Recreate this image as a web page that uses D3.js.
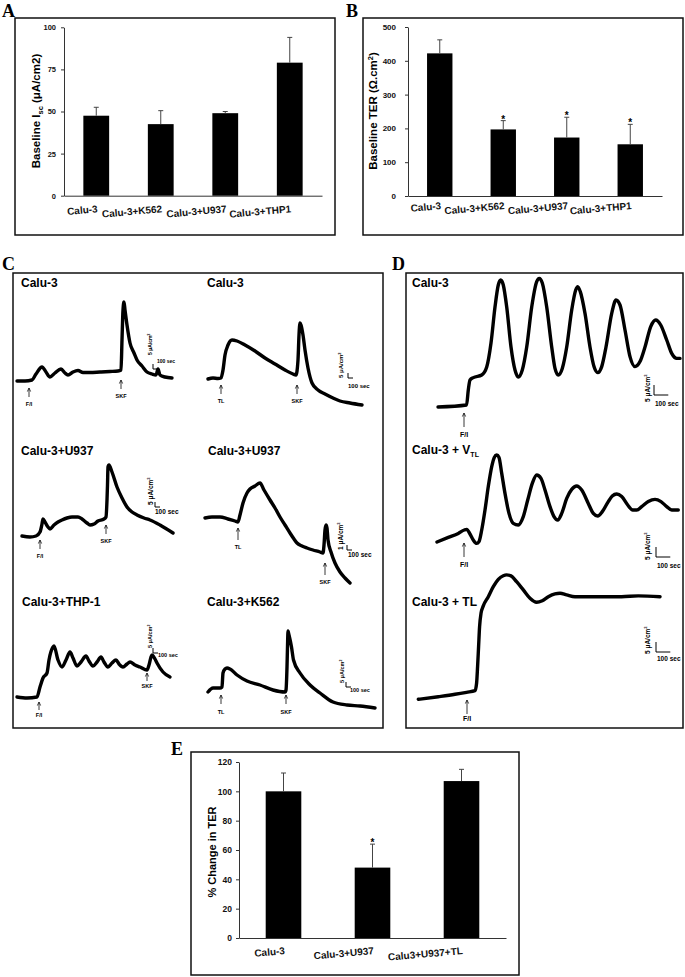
<!DOCTYPE html>
<html lang="en">
<head>
<meta charset="UTF-8">
<title>Calu-3 co-cultures: baseline Isc, TER and current traces</title>
<script src="https://d3js.org/d3.v7.min.js"></script>
<style>
  body { margin: 0; background: #fff; }
  svg { display: block; font-family: "Liberation Sans", Arial, sans-serif; font-weight: bold; }
  .letter { font-family: "Liberation Serif", "Times New Roman", serif; font-size: 18px; font-weight: bold; }
  .box { fill: none; stroke: #111; stroke-width: 1.5; }
  .trace { fill: none; stroke: #000; stroke-width: 3.4; stroke-linejoin: round; stroke-linecap: round; }
</style>
</head>
<body>
<svg id="fig" width="685" height="977"></svg>
<script>
const FONT = "Liberation Sans, Arial, sans-serif";

// ---- panel A: baseline Isc ----
const groupsAB = ["Calu-3", "Calu-3+K562", "Calu-3+U937", "Calu-3+THP1"];
const iscMean = [47.5, 42.5, 49, 79];
const iscErr = [5, 8, 1, 15];
const iscTicks = [0, 25, 50, 75, 100];

// ---- panel B: baseline TER ----
const terMean = [422, 197, 173, 153];
const terErr = [40, 26, 60, 59];
const terStar = [false, true, true, true];
const terTicks = [0, 100, 200, 300, 400, 500];

// ---- panel E: % change in TER ----
const groupsE = ["Calu-3", "Calu-3+U937", "Calu3+U937+TL"];
const terChange = [100, 48, 107];
const terChangeErr = [12.5, 16, 8];
const terChangeStar = [false, true, false];
const terChangeTicks = [0, 20, 40, 60, 80, 100, 120];

// ---- traces: [time (sec), Isc change (uA/cm2)] ----
const traceC1 = [[0,0],[160,0],[300,1],[380,7],[500,14],[580,9],[660,4],[760,8],[880,12],[960,8],[1020,6],[1120,9],[1220,10.5],[1320,8.5],[1460,8.5],[1660,9],[1860,9.5],[2020,10],[2080,11],[2100,41],[2120,71],[2140,79],[2160,71],[2200,56],[2260,38],[2340,28],[2400,21],[2500,15],[2600,9],[2700,7],[2780,6],[2820,12],[2860,6],[2960,4],[3100,3]];
const traceC2 = [[0,0],[100,1],[200,0.5],[260,1],[300,9],[340,24],[400,34],[480,39],[580,38],[740,34],[940,28],[1140,21],[1340,15],[1540,9],[1700,5],[1760,4],[1800,19],[1820,44],[1840,56],[1860,54],[1900,44],[1940,29],[2000,11],[2080,-4],[2200,-11],[2340,-15],[2500,-19],[2640,-22],[2840,-24],[3080,-26]];
const traceC3 = [[0,0],[160,-1],[280,0],[360,4],[400,12],[420,17],[460,14],[520,9],[560,7],[640,11],[720,14],[800,16],[900,18],[1000,19],[1120,19],[1200,17],[1300,13],[1360,11],[1440,12],[1520,15],[1640,17],[1680,19],[1700,36],[1710,51],[1720,69],[1740,71],[1800,64],[1900,49],[2000,38],[2100,29],[2200,24],[2300,21],[2440,18],[2560,16],[2760,11],[3020,3]];
const traceC4 = [[0,0],[140,0.2],[300,0.2],[460,-0.2],[600,-0.6],[660,-0.8],[700,0.6],[760,3],[840,5],[900,5.8],[1000,6.4],[1100,7],[1180,5.6],[1300,3.6],[1400,2],[1500,0.2],[1600,-1.4],[1700,-3],[1780,-4.2],[1840,-5],[1940,-5.6],[2040,-6],[2160,-6.4],[2300,-6.8],[2360,-7],[2380,-5.4],[2400,-2.4],[2420,-1.4],[2440,-2],[2460,-4.4],[2520,-6.8],[2600,-9],[2700,-10.8],[2800,-12],[2900,-13]];
const traceC5 = [[0,0],[200,-1],[400,0],[460,10],[520,19],[600,24],[640,37],[720,50],[740,51],[820,37],[900,30],[980,37],[1060,45],[1120,39],[1200,31],[1280,35],[1380,41],[1440,36],[1520,31],[1600,35],[1680,40],[1740,35],[1820,30],[1900,34],[1980,37],[2040,33],[2120,30],[2200,33],[2260,35],[2360,32],[2460,30],[2600,27],[2640,32],[2680,40],[2700,42],[2760,38],[2800,34],[2920,25],[3060,20]];
const traceC6 = [[0,0],[100,4],[240,4],[280,5],[300,19],[340,23],[380,24],[440,23],[580,17],[780,11],[1040,7],[1300,2],[1540,0],[1560,2],[1580,25],[1590,45],[1600,61],[1620,57],[1670,45],[1710,32],[1840,19],[2040,7],[2240,-1],[2500,-10],[2780,-13],[3040,-14],[3340,-16]];
const traceD1 = [[0,0],[200,1],[212,8.5],[224,13.5],[247,14.7],[306,16],[341,20],[371,32],[399,50],[422,61],[439,63.5],[457,61],[481,50],[511,30],[539,18.5],[562,15],[590,18.5],[621,30],[656,50],[691,62.7],[709,64.3],[730,62],[761,50],[796,30],[819,19.3],[842,16],[870,19.3],[901,30],[936,48.5],[964,58.5],[978,60.2],[996,57.7],[1029,46.8],[1064,30],[1092,20.2],[1118,17.2],[1146,20.2],[1176,30],[1216,46.8],[1246,53.5],[1274,51],[1309,38.5],[1344,25.2],[1379,20.2],[1414,22.7],[1449,30],[1489,40.2],[1524,43.5],[1559,41],[1601,33.5],[1636,26.8],[1671,24.3],[1694,24.3]];
const traceD2 = [[0,0],[79,2.3],[149,4.3],[191,6],[208,6.3],[231,4],[254,1],[278,-0.7],[294,0.2],[313,6],[336,16],[359,27.7],[383,37.7],[401,42.3],[418,43.5],[434,42.3],[453,34.3],[476,24.3],[504,14.3],[534,9.3],[569,8.5],[604,12.7],[635,21],[667,29.3],[698,33.5],[728,31.8],[756,26],[791,17.7],[819,12.7],[845,11],[873,14.3],[908,21.8],[943,26.3],[978,28],[1013,26],[1059,19.3],[1094,14.3],[1125,13],[1157,15.2],[1199,20.2],[1227,23],[1258,24],[1293,22.7],[1335,18.5],[1370,16],[1398,16],[1433,17.7],[1479,20.2],[1526,21.3],[1568,20.2],[1608,17.7],[1643,16],[1689,16]];
const traceD3 = [[0,0],[140,1.3],[257,2.5],[338,3.5],[397,4.3],[408,8],[415,16.3],[422,26.3],[429,36.3],[439,43],[455,46.7],[490,51.3],[525,56.3],[560,60],[595,61.8],[618,62.2],[649,61.7],[688,58.8],[735,54.7],[782,50.5],[828,48.5],[868,49.3],[910,51.3],[957,52.7],[992,53],[1038,52.2],[1097,51.3],[1190,51.3],[1307,51.3],[1423,51.3],[1540,51.7],[1692,51.3]];

// drug additions: label and time (sec)
const eventsC1 = [{ label: "F/I", t: 240 }, { label: "SKF", t: 2080 }];
const eventsC2 = [{ label: "TL", t: 260 }, { label: "SKF", t: 1780 }];
const eventsC3 = [{ label: "F/I", t: 360 }, { label: "SKF", t: 1680 }];
const eventsC4 = [{ label: "TL", t: 660 }, { label: "SKF", t: 2400 }];
const eventsC5 = [{ label: "F/I", t: 440 }, { label: "SKF", t: 2600 }];
const eventsC6 = [{ label: "TL", t: 260 }, { label: "SKF", t: 1560 }];
const eventsD1 = [{ label: "F/I", t: 182 }];
const eventsD2 = [{ label: "F/I", t: 189 }];
const eventsD3 = [{ label: "F/I", t: 341 }];

const svg = d3.select("#fig");

// panel frames + letters
[[15, 18, 335, 235], [363, 18, 683, 235], [13, 273, 383, 728], [406, 273, 683, 728], [191, 752, 519, 975]]
  .forEach(b => svg.append("rect").attr("class", "box")
    .attr("x", b[0]).attr("y", b[1]).attr("width", b[2] - b[0]).attr("height", b[3] - b[1]));
[["A", 2, 17], ["B", 346, 17], ["C", 2, 270], ["D", 392, 270], ["E", 171, 755]]
  .forEach(l => svg.append("text").attr("class", "letter").attr("x", l[1]).attr("y", l[2]).text(l[0]));

function barPanel(o) {
  const x = d3.scaleBand().domain(o.groups).range([o.x0, o.x1]).paddingInner(0.6).paddingOuter(0.3);
  const y = d3.scaleLinear().domain([0, o.ymax]).range([o.yBase, o.yTop]);
  const g = svg.append("g");

  const ya = g.append("g").attr("transform", `translate(${o.x0},0)`)
    .call(d3.axisLeft(y).tickValues(o.ticks).tickSize(3).tickSizeOuter(0).tickPadding(o.tickPad));
  ya.attr("font-family", FONT).attr("font-size", o.tickFont).attr("font-weight", "bold");
  ya.selectAll("path, line").attr("stroke", "#333");
  ya.selectAll("text").attr("fill", "#111");

  const xa = g.append("g").attr("transform", `translate(0,${o.yBase})`)
    .call(d3.axisBottom(x).tickSize(0).tickSizeOuter(0).tickPadding(0));
  xa.attr("font-family", FONT).attr("font-size", 10).attr("font-weight", "bold");
  xa.select(".domain").attr("stroke", "#333");
  xa.selectAll("text").attr("fill", "#111").attr("y", 0).attr("dy", "0.71em")
    .attr("text-anchor", "end").attr("transform", `translate(1,${o.labelDy}) rotate(-5)`);

  const rows = o.groups.map((k, i) => ({ k, m: o.mean[i], e: o.err[i], s: o.star ? o.star[i] : false }));
  g.selectAll(".bar").data(rows).join("rect")
    .attr("x", d => x(d.k)).attr("width", x.bandwidth())
    .attr("y", d => y(d.m)).attr("height", d => y(0) - y(d.m)).attr("fill", "#000");
  const cx = d => x(d.k) + x.bandwidth() / 2;
  g.selectAll(".eb").data(rows).join("path")
    .attr("d", d => `M${cx(d)},${y(d.m)}V${y(d.m + d.e)}M${cx(d) - 2.5},${y(d.m + d.e)}H${cx(d) + 2.5}`)
    .attr("stroke", "#444").attr("stroke-width", 1).attr("fill", "none");
  g.selectAll(".star").data(rows.filter(d => d.s)).join("text")
    .attr("x", cx).attr("y", d => y(d.m + d.e) + 2).attr("text-anchor", "middle")
    .attr("font-size", 10).text("*");

  const t = g.append("text").attr("transform", `translate(${o.titleX},${o.titleY}) rotate(-90)`)
    .attr("text-anchor", "middle").attr("font-size", o.titleFont);
  o.title(t);
}

barPanel({
  groups: groupsAB, mean: iscMean, err: iscErr, ticks: iscTicks, ymax: 100,
  x0: 64, x1: 322, yBase: 195.7, yTop: 27.3, tickPad: 5, tickFont: 7.5, labelDy: 9.5,
  titleX: 40, titleY: 111, titleFont: 11.5,
  title: t => {
    t.append("tspan").text("Baseline I");
    t.append("tspan").attr("font-size", 7.5).attr("dy", 2.5).text("sc");
    t.append("tspan").attr("dy", -2.5).text(" (\u03bcA/cm2)");
  }
});

barPanel({
  groups: groupsAB, mean: terMean, err: terErr, star: terStar, ticks: terTicks, ymax: 500,
  x0: 408, x1: 662, yBase: 196, yTop: 27, tickPad: 9, tickFont: 8, labelDy: 6,
  titleX: 377, titleY: 111, titleFont: 11.5,
  title: t => {
    t.append("tspan").text("Baseline TER (\u03a9.cm");
    t.append("tspan").attr("font-size", 7.5).attr("dy", -4).text("2");
    t.append("tspan").attr("dy", 4).text(")");
  }
});

barPanel({
  groups: groupsE, mean: terChange, err: terChangeErr, star: terChangeStar, ticks: terChangeTicks, ymax: 120,
  x0: 239, x1: 506, yBase: 938, yTop: 762, tickPad: 4, tickFont: 8.5, labelDy: 9,
  titleX: 216, titleY: 852, titleFont: 11,
  title: t => t.text("% Change in TER")
});

function tracePanel(o) {
  const x = d3.scaleLinear().domain([0, 100]).range([o.x0, o.x0 + 100 * o.pxPerSec]);
  const y = d3.scaleLinear().domain([0, 1]).range([o.y0, o.y0 - o.pxPerUA]);
  const line = d3.line().x(d => x(d[0])).y(d => y(d[1])).curve(d3.curveMonotoneX);
  const g = svg.append("g");
  g.append("path").datum(o.data).attr("class", "trace").attr("d", line);

  const tt = g.append("text").attr("x", o.tx).attr("y", o.ty).attr("font-size", 12);
  tt.append("tspan").text(o.name);
  if (o.sub) tt.append("tspan").attr("font-size", 7).attr("dy", 3).text(o.sub);

  o.events.forEach((e, i) => {
    const ex = x(e.t), tip = o.tips[i];
    g.append("path")
      .attr("d", `M${ex},${tip}V${tip + o.arrowLen}M${ex - 1.6},${tip + 3.5}L${ex},${tip}L${ex + 1.6},${tip + 3.5}`)
      .attr("stroke", "#222").attr("stroke-width", 0.9).attr("fill", "none");
    g.append("text").attr("x", ex).attr("y", tip + o.labelOff).attr("text-anchor", "middle")
      .attr("font-size", o.evFont).text(e.label);
  });

  const b = o.bar;
  const vLen = y(0) - y(b.ua), hLen = x(100) - x(0);
  g.append("path").attr("d", `M${b.x},${b.y - vLen}V${b.y}H${b.x + hLen}`)
    .attr("stroke", "#000").attr("stroke-width", 1).attr("fill", "none");
  const vt = g.append("text").attr("transform", `translate(${b.tx},${b.ty}) rotate(-90)`).attr("font-size", b.fs);
  vt.append("tspan").text(`${b.ua} \u03bcA/cm`);
  vt.append("tspan").attr("font-size", b.fs * 0.65).attr("dy", -b.fs * 0.4).text("2");
  g.append("text").attr("x", b.hx).attr("y", b.hy).attr("font-size", b.fs).text("100 sec");
}

const C = { pxPerSec: 1 / 20, pxPerUA: 1, arrowLen: 9, labelOff: 18, evFont: 5.5 };
const D = { pxPerSec: 1 / 7, pxPerUA: 2, arrowLen: 14, labelOff: 24, evFont: 7 };

tracePanel({ ...C, data: traceC1, events: eventsC1, tips: [388, 380], x0: 17, y0: 381, name: "Calu-3", tx: 21, ty: 287,
  bar: { ua: 5, x: 153, y: 369, tx: 152, ty: 355, hx: 157, hy: 363, fs: 5 } });
tracePanel({ ...C, data: traceC2, events: eventsC2, tips: [385, 385], x0: 208, y0: 379, name: "Calu-3", tx: 207, ty: 287,
  bar: { ua: 5, x: 348, y: 378, tx: 343, ty: 378, hx: 348, hy: 388, fs: 6 } });
tracePanel({ ...C, data: traceC3, events: eventsC3, tips: [540, 525], x0: 22, y0: 536, name: "Calu-3+U937", tx: 21, ty: 455,
  bar: { ua: 5, x: 155, y: 507, tx: 153, ty: 505, hx: 155, hy: 514, fs: 6.5 } });
tracePanel({ ...C, pxPerUA: 5, arrowLen: 12, labelOff: 21, data: traceC4, events: eventsC4, tips: [528, 563], x0: 205, y0: 518,
  name: "Calu-3+U937", tx: 208, ty: 455,
  bar: { ua: 1, x: 347, y: 550, tx: 343, ty: 550, hx: 348, hy: 557, fs: 6.5 } });
tracePanel({ ...C, labelOff: 15, arrowLen: 8, data: traceC5, events: eventsC5, tips: [702, 673], x0: 17, y0: 697, name: "Calu-3+THP-1", tx: 22, ty: 606,
  bar: { ua: 5, x: 153, y: 653, tx: 152, ty: 648, hx: 158, hy: 657, fs: 5.5 } });
tracePanel({ ...C, labelOff: 19, data: traceC6, events: eventsC6, tips: [695, 695], x0: 208, y0: 692, name: "Calu-3+K562", tx: 207, ty: 606,
  bar: { ua: 5, x: 346, y: 687, tx: 344, ty: 683, hx: 350, hy: 692, fs: 5.5 } });

tracePanel({ ...D, data: traceD1, events: eventsD1, tips: [413], x0: 438, y0: 407, name: "Calu-3", tx: 412, ty: 287,
  bar: { ua: 5, x: 654, y: 395, tx: 650, ty: 402, hx: 655, hy: 406, fs: 6.5 } });
tracePanel({ ...D, data: traceD2, events: eventsD2, tips: [543], x0: 437, y0: 542, name: "Calu-3 + V", sub: "TL", tx: 412, ty: 454,
  bar: { ua: 5, x: 656, y: 557, tx: 650, ty: 560, hx: 657, hy: 568, fs: 6.5 } });
tracePanel({ ...D, labelOff: 21, data: traceD3, events: eventsD3, tips: [700], x0: 418.3, y0: 699.3, name: "Calu-3 + TL", tx: 412, ty: 606,
  bar: { ua: 5, x: 656, y: 652, tx: 650, ty: 654, hx: 657, hy: 661, fs: 6.5 } });
</script>
</body>
</html>
